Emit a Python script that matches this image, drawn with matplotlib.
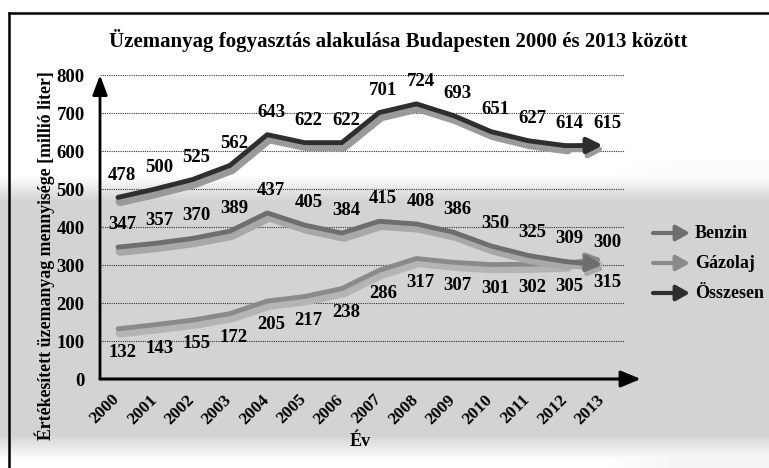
import numpy as np
import matplotlib
matplotlib.use("Agg")
import matplotlib.pyplot as plt
import matplotlib.patheffects as pe
import matplotlib.transforms as mtrans
from matplotlib.lines import Line2D

# ---- data ----
years = ["2000", "2001", "2002", "2003", "2004", "2005", "2006",
         "2007", "2008", "2009", "2010", "2011", "2012", "2013"]
osszesen = [478, 500, 525, 562, 643, 622, 622, 701, 724, 693, 651, 627, 614, 615]
benzin = [347, 357, 370, 389, 437, 405, 384, 415, 408, 386, 350, 325, 309, 300]
gazolaj = [132, 143, 155, 172, 205, 217, 238, 286, 317, 307, 301, 302, 305, 315]
series_names = ["Benzin", "Gázolaj", "Összesen"]
yticks = [0, 100, 200, 300, 400, 500, 600, 700, 800]

title = "Üzemanyag fogyasztás alakulása Budapesten 2000 és 2013 között"
ylabel = "Értékesített üzemanyag mennyisége [millió liter]"
xlabel = "Év"

W, H = 769, 468
fig = plt.figure(figsize=(W / 100, H / 100), dpi=100)
serif = ["Liberation Serif", "DejaVu Serif"]

# ---- scanned-paper style background ----
bg = fig.add_axes([0, 0, 1, 1], zorder=-10)
yy, xx = np.mgrid[0:H, 0:W]
def ramp(v, a, b):
    return np.clip((v - a) / (b - a), 0, 1)
mask = ramp(yy, 175, 200) * (1 - ramp(yy, 435, 460))
mask = np.maximum(mask, 0.25 * ramp(xx, 600, 680) * ramp(yy, 150, 200))
img = 1 - 0.17 * mask
bg.imshow(img, cmap="gray", vmin=0, vmax=1, extent=[0, W, H, 0], aspect="auto",
          interpolation="bilinear")
bg.set_xlim(0, W)
bg.set_ylim(H, 0)
bg.axis("off")
# frame
bg.add_line(Line2D([9, 9], [13, H], color="black", lw=1.8))
bg.add_line(Line2D([9, W], [13, 13], color="black", lw=1.8))

# ---- main axes ----
L, R, T, B = 100, 625, 75, 379
ax = fig.add_axes([L / W, (H - B) / H, (R - L) / W, (B - T) / H])
ax.patch.set_alpha(0)
x = np.arange(len(years))
ax.set_xlim(-0.4826, 13.592)
ax.set_ylim(0, 800)
for s in ax.spines.values():
    s.set_visible(False)

for v in yticks[1:]:
    ax.axhline(v, color="#333333", lw=0.8, ls=(0, (1, 1)), zorder=1)

# axis arrows
ax.annotate("", xy=(1.03, 0), xytext=(0, 0), xycoords="axes fraction",
            arrowprops=dict(arrowstyle="-|>,head_length=1.2,head_width=0.5",
                            color="black", lw=2.2, shrinkA=0, shrinkB=0), zorder=5)
ax.annotate("", xy=(0, 1.0), xytext=(0, 0), xycoords="axes fraction",
            arrowprops=dict(arrowstyle="-|>,head_length=1.2,head_width=0.45",
                            color="black", lw=2.0, shrinkA=0, shrinkB=0), zorder=5)

styles = {
    "Összesen": dict(color="#2e2e2e", shadow="#9a9a9a"),
    "Benzin": dict(color="#6e6e6e", shadow="#a8a8a8"),
    "Gázolaj": dict(color="#8a8a8a", shadow="#b4b4b4"),
}
data = {"Benzin": benzin, "Gázolaj": gazolaj, "Összesen": osszesen}
label_dy = {"Összesen": 15.8, "Benzin": 16.5, "Gázolaj": -17.0}

for name in ["Gázolaj", "Benzin", "Összesen"]:
    vals = data[name]
    st = styles[name]
    effects = [pe.SimpleLineShadow(offset=(1.5, -3), shadow_color=st["shadow"],
                                   alpha=1, linewidth=6.5),
               pe.Normal()]
    ax.plot(x[:-1], vals[:-1], color=st["color"], lw=3.5, solid_joinstyle="round",
            solid_capstyle="round", path_effects=effects, zorder=3)
    ax.annotate("", xy=(x[-1], vals[-1]), xytext=(x[-2], vals[-2]),
                arrowprops=dict(arrowstyle="-|>,head_length=0.9,head_width=0.45",
                                color=st["color"], lw=3.5, shrinkA=0, shrinkB=0,
                                path_effects=[pe.SimpleLineShadow(offset=(1.5, -3),
                                              shadow_color=st["shadow"], alpha=1),
                                              pe.Normal()]),
                zorder=3)
    for xi, v in zip(x, vals):
        ax.annotate(str(v), xy=(xi, v), xytext=(2.9, label_dy[name]),
                    textcoords="offset points", ha="center", va="center",
                    fontsize=13.5, fontweight="bold", family=serif, zorder=6)

ax.set_yticks(yticks)
ax.set_yticklabels([str(v) for v in yticks], fontsize=13.5, fontweight="bold",
                   family=serif)
ax.tick_params(axis="y", length=0, pad=11)
ax.set_xticks(x)
ax.set_xticklabels(years, rotation=45, ha="right", va="top", fontsize=12.5,
                   fontweight="bold", family=serif)
ax.tick_params(axis="x", length=0, pad=9)
for lab in ax.get_xticklabels():
    lab.set_transform(lab.get_transform() + mtrans.ScaledTranslation(5 / 100, 0, fig.dpi_scale_trans))

# titles
fig.text(398 / W, 1 - 41 / H, title, ha="center", va="center", fontsize=15,
         fontweight="bold", family=serif)
fig.text(45 / W, 1 - 256 / H, ylabel, ha="center", va="center", rotation=90,
         fontsize=12.8, fontweight="bold", family=serif)
fig.text(360 / W, 1 - 442 / H, xlabel, ha="center", va="center", fontsize=13,
         fontweight="bold", family=serif)

# legend (arrows + text)
leg_y = {"Benzin": 233, "Gázolaj": 263, "Összesen": 293}
for name in series_names:
    yv = leg_y[name]
    st = styles[name]
    bg.annotate("", xy=(690, yv), xytext=(653, yv), xycoords="data",
                arrowprops=dict(arrowstyle="-|>,head_length=0.8,head_width=0.45",
                                color=st["color"], lw=3, shrinkA=0, shrinkB=0))
    bg.text(695, yv, name, ha="left", va="center", fontsize=13,
            fontweight="bold", family=serif)

fig.savefig("out.png", dpi=100)
